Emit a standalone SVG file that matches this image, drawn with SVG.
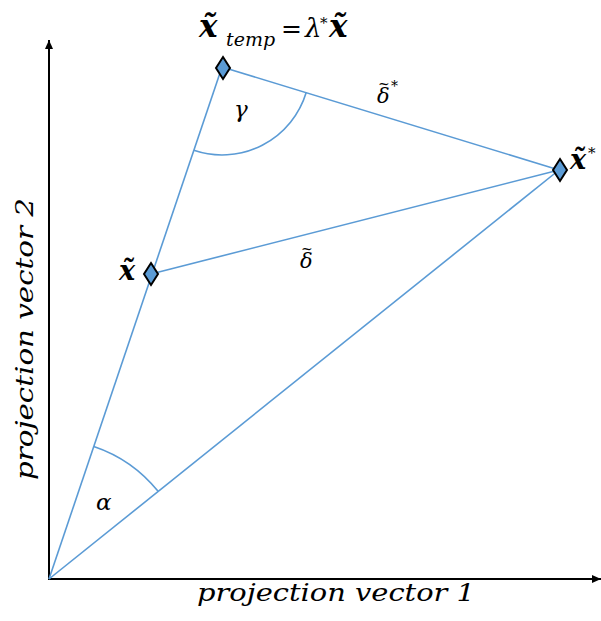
<svg xmlns="http://www.w3.org/2000/svg" width="601" height="621" viewBox="0 0 601 621">
<defs>
<style>
.ax{stroke:#000;stroke-width:2;fill:none}
.ln{stroke:#5B9BD5;stroke-width:1.6;fill:none}
.dm{fill:#5B9BD5;stroke:#000;stroke-width:2}
.m{font-family:"DejaVu Serif","Liberation Serif",serif;font-style:italic;fill:#000}
.b{font-weight:bold}
.n{font-style:normal}
.lab{font-family:"DejaVu Serif","Liberation Serif",serif;font-style:italic;font-size:25px;fill:#000}
</style>
<marker id="ah" markerWidth="10" markerHeight="10" refX="9" refY="5" orient="auto" markerUnits="userSpaceOnUse">
<path d="M0,1 L9,5 L0,9 Z" fill="#000"/>
</marker>
<path id="dmd" d="M0,-11 L7,0 L0,11 L-7,0 Z"/>
</defs>
<rect width="601" height="621" fill="#fff"/>
<g id="axes">
<line class="ax" x1="49" y1="579" x2="49" y2="40" marker-end="url(#ah)"/>
<line class="ax" x1="48" y1="579" x2="601" y2="579" marker-end="url(#ah)"/>
</g>
<g id="connectors">
<line class="ln" x1="49" y1="579" x2="222" y2="67"/>
<line class="ln" x1="49" y1="579" x2="559" y2="170"/>
<line class="ln" x1="222" y1="67" x2="559" y2="170"/>
<line class="ln" x1="151" y1="274" x2="559" y2="170"/>
<path class="ln" d="M93.8,446.4 A140,140 0 0 1 158.1,491.3"/>
<path class="ln" d="M193.8,150.3 A88,88 0 0 0 306.2,92.5"/>
</g>
<g id="node-xtemp">
<use href="#dmd" class="dm" x="223" y="68"/>
<text class="m" font-size="31"><tspan class="b" x="199" y="37">x&#x303;</tspan><tspan x="226" y="46" font-size="19">temp</tspan><tspan class="n" x="281" y="37" font-size="25">=</tspan><tspan x="305" y="37" font-size="26">λ</tspan><tspan class="n" x="320" y="28" font-size="15">*</tspan><tspan class="b" x="329" y="37">x&#x303;</tspan></text>
</g>
<g id="node-xstar">
<use href="#dmd" class="dm" x="560" y="170"/>
<text class="m" font-size="27"><tspan class="b" x="570" y="169">x&#x303;</tspan><tspan class="n" x="588" y="158" font-size="15">*</tspan></text>
</g>
<g id="node-x">
<use href="#dmd" class="dm" x="151" y="274"/>
<text class="m b" font-size="27" x="119" y="280">x&#x303;</text>
</g>
<g id="labels">
<text class="m" x="96" y="510" font-size="23">α</text>
<text class="m" x="234" y="117" font-size="23">γ</text>
<text class="m" font-size="21"><tspan x="300" y="268">δ</tspan><tspan class="n" x="301" y="254" font-size="14">~</tspan></text>
<text class="m" font-size="21"><tspan x="377" y="103">δ</tspan><tspan class="n" x="378" y="89" font-size="14">~</tspan><tspan class="n" x="391" y="91" font-size="14">*</tspan></text>
<text class="lab" x="197" y="601" textLength="278" lengthAdjust="spacingAndGlyphs">projection vector 1</text>
<text class="lab" transform="translate(33,480) rotate(-90)" x="0" y="0" textLength="282" lengthAdjust="spacingAndGlyphs">projection vector 2</text>
</g>
</svg>
